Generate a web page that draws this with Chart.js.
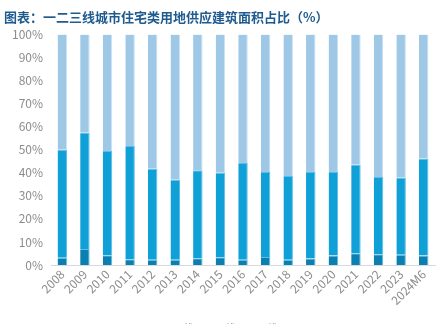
<!DOCTYPE html>
<html>
<head>
<meta charset="utf-8">
<script src="https://cdn.jsdelivr.net/npm/chart.js@4"></script>
<style>
html,body{margin:0;padding:0;background:#fff;overflow:hidden;}
#wrap{width:442px;height:343px;}
</style>
</head>
<body>
<div id="wrap"><canvas id="c" width="442" height="343"></canvas></div>
<script>
const categories = ["2008","2009","2010","2011","2012","2013","2014","2015","2016","2017","2018","2019","2020","2021","2022","2023","2024M6"];
const tier1 = [3.2,6.9,4.2,2.5,2.3,2.3,2.9,3.4,2.3,3.5,2.3,2.8,4.1,5.1,4.7,4.4,4.1];
const tier2 = [46.8,50.6,45.3,49.2,39.5,34.7,38.2,36.6,42.0,36.9,36.3,37.6,36.3,38.5,33.5,33.6,42.1];
const tier3 = [50.0,42.5,50.5,48.3,58.2,63.0,58.9,60.0,55.7,59.6,61.4,59.6,59.6,56.4,61.8,62.0,53.8];
const seriesNames = ["一线","二线","三线"];
const yTicks = [0,10,20,30,40,50,60,70,80,90,100];

const font = "'Noto Sans CJK SC','Noto Sans',sans-serif";
new Chart(document.getElementById('c'), {
  type: 'bar',
  data: {
    labels: categories,
    datasets: [
      {label: seriesNames[0], data: tier1, backgroundColor: '#0b7fb0', borderColor: '#5cbde6', borderWidth: {top:1,left:0,right:1,bottom:0}},
      {label: seriesNames[1], data: tier2, backgroundColor: '#0ea0d6', borderColor: '#5cbde6', borderWidth: {top:1,left:0,right:1,bottom:0}},
      {label: seriesNames[2], data: tier3, backgroundColor: '#9fc8e6', borderColor: '#c9e1f2', borderWidth: {top:0,left:0,right:1,bottom:0}}
    ]
  },
  options: {
    responsive: false,
    animation: false,
    layout: {padding: {left: 4, right: 7, top: 0, bottom: 0}},
    datasets: {bar: {barPercentage: 0.42, categoryPercentage: 1.0}},
    plugins: {
      title: {
        display: true,
        text: '图表：一二三线城市住宅类用地供应建筑面积占比（%）',
        align: 'start',
        color: '#1f5b8e',
        font: {family: font, size: 13, weight: 'bold'},
        padding: {top: 9, bottom: 10}
      },
      legend: {
        position: 'bottom',
        labels: {color: '#8c8c8c', font: {family: font, size: 10}, boxWidth: 7, boxHeight: 6, padding: 10}
      },
      tooltip: {enabled: false}
    },
    scales: {
      x: {
        stacked: true,
        grid: {display: false, drawTicks: false},
        border: {display: true, color: '#d9d9d9', width: 1},
        ticks: {color: '#8c8c8c', font: {family: font, size: 12}, maxRotation: 45, minRotation: 45, padding: 2, autoSkip: false},
        afterFit: (ax) => { ax.height = 48; }
      },
      y: {
        stacked: true,
        min: 0, max: 100,
        afterBuildTicks: (ax) => { ax.ticks = yTicks.map(v => ({value: v})); },
        grid: {display: false, drawTicks: false},
        border: {display: false},
        ticks: {color: '#8c8c8c', font: {family: font, size: 12}, padding: 8, callback: v => v + '%'}
      }
    }
  }
});
</script>
</body>
</html>
